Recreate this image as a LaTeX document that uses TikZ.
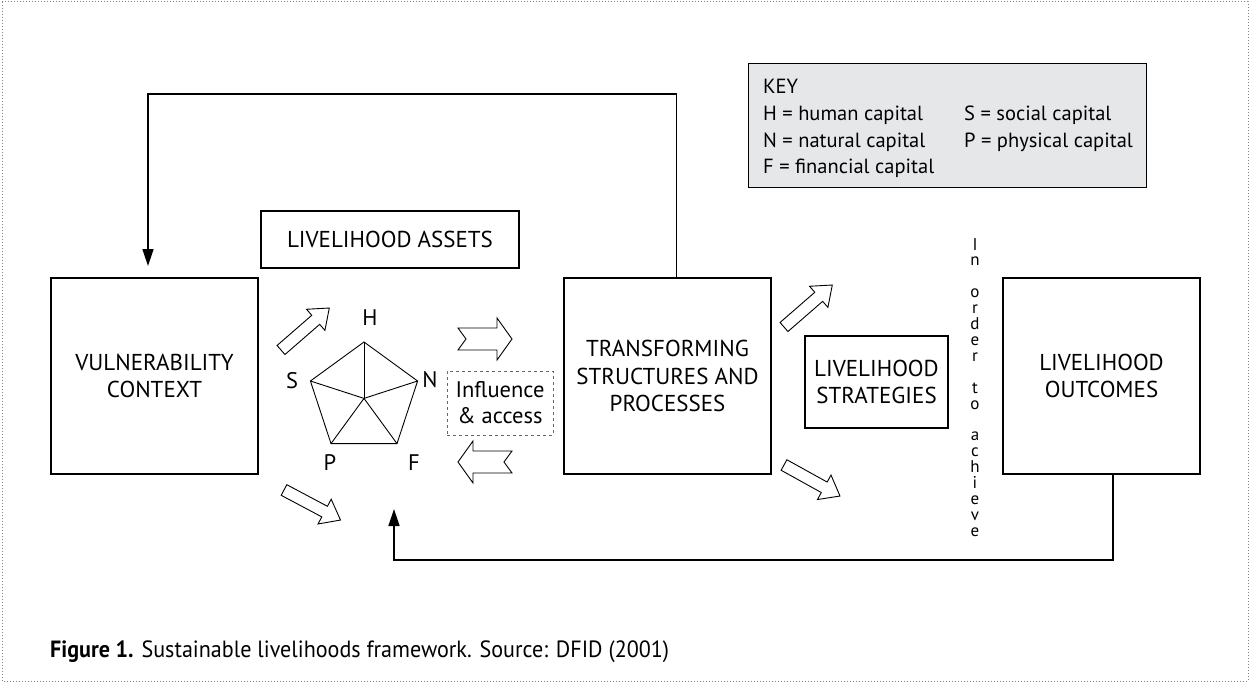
\documentclass[tikz,border=0pt]{standalone}
\usepackage{fontspec}
\setmainfont{PT Sans}
\newfontfamily\capfont[FakeStretch=0.94]{PT Sans}
\usetikzlibrary{arrows.meta}
\definecolor{keygray}{HTML}{E6E7E8}
\begin{document}
\begin{tikzpicture}[x=1pt,y=-1pt,
  box/.style={draw, line width=1.1pt, align=center, font=\fontsize{23}{27.5}\selectfont, inner sep=0pt},
  fb/.style={line width=1.6pt, -{Triangle[length=17pt,width=11pt]}},
  ha/.style={draw, line width=0.9pt, fill=white, line join=miter},
  lbl/.style={font=\fontsize{22.5}{26}\selectfont, inner sep=0pt},
  keytxt/.style={font=\fontsize{20.5}{24}\selectfont, inner sep=0pt, anchor=base west},
  coltxt/.style={font=\fontsize{17}{17}\selectfont, inner sep=0pt, anchor=base},
  barrow/.pic={\draw[ha] (0,-6) -- (46,-6) -- (46,-14) -- (64,0) -- (46,14) -- (46,6) -- (0,6) -- cycle;},
  narrow/.pic={\draw[ha] (0,-11) -- (39,-11) -- (39,-21) -- (54,0) -- (39,21) -- (39,11) -- (0,11) -- (8,0) -- cycle;}
]
\useasboundingbox (0,0) rectangle (1250,682);
\draw[dotted, line width=1pt, gray] (2,2) rectangle (1248,681);

% key
\node[draw, line width=0.9pt, fill=keygray, minimum width=398pt, minimum height=124pt, inner sep=0pt] (key) at (947,125) {};
\node[keytxt] (k0) at (763,94) {KEY};
\node[keytxt] (k1) at (763,121) {H = human capital};
\node[keytxt] (k2) at (763,147) {N = natural capital};
\node[keytxt] (k3) at (763,173) {F = financial capital};
\node[keytxt] (k4) at (964,121) {S = social capital};
\node[keytxt] (k5) at (964,147) {P = physical capital};

% boxes
\node[box, minimum width=207pt, minimum height=196pt] (vuln) at (154.5,376) {VULNERABILITY\\CONTEXT};
\node[box, minimum width=258pt, minimum height=57pt] (assets) at (390,239.5) {LIVELIHOOD ASSETS};
\node[box, minimum width=207pt, minimum height=196pt] (trans) at (667.5,376) {TRANSFORMING\\STRUCTURES AND\\PROCESSES};
\node[box, minimum width=143pt, minimum height=92pt] (strat) at (876.5,382) {LIVELIHOOD\\STRATEGIES};
\node[box, minimum width=197pt, minimum height=196pt] (out) at (1101.5,376) {LIVELIHOOD\\OUTCOMES};
\node[draw, dashed, gray!80!black, line width=0.9pt, minimum width=106pt, minimum height=64pt, inner sep=0pt, align=center, text=black, font=\fontsize{22.5}{26}\selectfont] (infl) at (500,403) {Influence\\\& access};

% pentagon
\coordinate (pc) at (364,398.4);
\coordinate (vH) at (364,342);
\coordinate (vS) at (310.4,381);
\coordinate (vN) at (417.6,381);
\coordinate (vP) at (331,443.6);
\coordinate (vF) at (397,443.6);
\draw[line width=0.9pt, line join=miter] (vH) -- (vN) -- (vF) -- (vP) -- (vS) -- cycle;
\foreach \v in {vH,vS,vN,vP,vF} \draw[line width=0.9pt] (pc) -- (\v);
\node[lbl] (lH) at (370,318) {H};
\node[lbl] (lS) at (292,381) {S};
\node[lbl] (lN) at (430,380) {N};
\node[lbl] (lP) at (330,463) {P};
\node[lbl] (lF) at (414,463) {F};

% block arrows
\pic[rotate=41] at (281,350) {barrow};
\pic[rotate=-28] at (284,490) {barrow};
\pic[rotate=41] at (784,327) {barrow};
\pic[rotate=-29] at (784,465) {barrow};
\pic at (458,339) {narrow};
\pic[rotate=180] at (512,462) {narrow};

% feedback loops
\coordinate (t1) at ([xshift=113pt]trans.north west);
\coordinate (t2) at (148,266);
\draw[fb] (t1) |- (148,94) -- (t2);
\coordinate (b1) at ([xshift=110.5pt]out.south west);
\coordinate (b2) at (394,509);
\draw[fb] (b1) |- (394,560) -- (b2);

% vertical text
\foreach \ch [count=\i] in {I,n,{},o,r,d,e,r,{},t,o,{},a,c,h,i,e,v,e}
  \node[coltxt] (c\i) at (975,{250+15.9*(\i-1)}) {\ch};

% caption
\node[anchor=base west, inner sep=0pt, font=\capfont\fontsize{23.5}{27}\selectfont] (cap) at (50,657) {\textbf{Figure 1.}\hspace{8pt}Sustainable livelihoods framework. Source: DFID (2001)};
\end{tikzpicture}
\end{document}
